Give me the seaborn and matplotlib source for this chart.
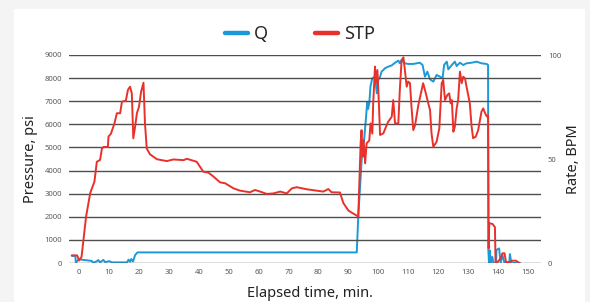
import numpy as np
import pandas as pd
import seaborn as sns
import matplotlib
matplotlib.use('Agg')
import matplotlib.pyplot as plt
from matplotlib.lines import Line2D
from matplotlib.patches import Rectangle

# 数据：STP（压力, psi）
stp_t = [-2.5, -0.7, 0.0, 0.8, 2.3, 3.7, 5.1, 5.9, 7.0, 7.6, 8.1, 9.6, 9.8, 10.6, 11.8, 12.6, 13.7,
         14.3, 15.6, 16.3, 17.0, 17.6, 18.1, 18.7, 19.3, 20.0, 20.7, 21.5, 22.0, 22.6, 23.7, 26.0,
         29.3, 31.5, 34.9, 36.0, 39.3, 41.5, 43.2, 44.9, 47.1, 48.8, 51.6, 53.8, 57.1, 58.8, 60.5,
         62.7, 64.9, 67.2, 69.4, 71.1, 72.7, 76.1, 81.6, 83.3, 84.4, 87.2, 88.3, 90.0, 91.1, 92.8,
         93.3, 94.1, 94.4, 94.8, 95.1, 95.6, 96.1, 97.0, 97.4, 98.0, 98.3, 98.9, 99.2, 99.7, 100.2,
         100.6, 101.7, 102.6, 103.3, 104.5, 105.0, 105.6, 106.7, 107.2, 107.8, 108.4, 108.9, 109.5,
         110.0, 110.6, 111.1, 111.7, 112.3, 113.4, 114.5, 115.0, 115.9, 116.7, 117.3, 117.8, 118.4,
         119.5, 120.4, 121.2, 121.7, 122.3, 123.1, 123.7, 124.2, 124.6, 125.1, 125.6, 126.2, 126.7,
         127.3, 127.9, 128.4, 129.0, 129.5, 130.6, 131.2, 131.7, 132.6, 133.4, 134.0, 134.5, 135.1,
         135.5, 136.0, 136.4, 136.7, 136.9, 137.1, 138.2, 139.0, 139.2, 139.8, 140.9, 141.5, 142.2,
         142.7, 144.0, 144.8, 146.0, 147.2]
stp_p = [330, 330, 110, 270, 2000, 3030, 3520, 4380, 4460, 4950, 5020, 5020, 5470, 5590, 6040, 6480, 6480,
         6980, 7020, 7490, 7630, 7340, 5395, 5900, 6480, 6760, 7410, 7800, 6040, 4950, 4700, 4490,
         4410, 4480, 4450, 4510, 4380, 3950, 3910, 3740, 3490, 3450, 3230, 3130, 3060, 3160, 3090,
         2990, 3010, 3090, 3010, 3230, 3280, 3190, 3090, 3200, 3060, 3050, 2600, 2270, 2180, 2050,
         2000, 5180, 5750, 4600, 5300, 4310, 5180, 5300, 6040, 5600, 6910, 8500, 7780, 8350, 6910,
         5540, 5610, 5900, 6110, 6330, 7050, 6040, 6040, 7490, 8780, 8900, 8350, 7630,
         7850, 7780, 6760, 5750, 5960, 6840, 7490, 7780, 7340, 6910, 6620, 5610, 5020,
         5250, 5820, 7780, 7920, 7050, 7270, 7340, 6910, 7050, 5680, 5900, 6690, 7050,
         8280, 7780, 8060, 7990, 7630, 6910, 5900, 5400, 5470, 5750, 6190, 6550, 6690,
         6550, 6400, 6330, 6400, 635, 1720, 1690, 1550, 30, 30, 200, 420, 420,
         40, 40, 100, 100, 0]

# 数据：Q（排量, BPM）
q_t = [-2.4, -1.3, -1.1, -0.1, 0.9, 4.2, 4.7, 5.8, 6.4, 7.0, 8.1, 8.7, 10.0, 11.0, 16.0, 16.5, 17.0,
       17.4, 18.0, 18.7, 19.5, 92.8, 93.3, 94.5, 94.8, 95.2, 95.9, 96.3, 96.6, 97.0, 97.4, 98.0,
       98.9, 99.5, 100.0, 100.6, 101.1, 101.7, 102.2, 103.3, 104.5, 105.6, 106.7, 107.2, 107.8,
       108.9, 110.0, 111.7, 113.9, 114.8, 115.6, 116.4, 117.3, 118.4, 119.5, 120.6, 121.5, 122.0,
       122.9, 123.4, 124.6, 125.6, 126.2, 127.3, 128.4, 129.5, 131.2, 132.9, 134.5, 136.2, 136.7,
       136.8, 137.0, 137.3, 137.6, 138.1, 138.5, 139.4, 139.5, 140.4, 140.9, 141.5, 142.2, 143.8,
       144.0, 144.5, 147.4]
q_rate = [3.4, 3.4, 0.2, 1.8, 1.6, 1.0, 0.1, 0.8, 1.4, 0.3, 1.5, 0.4, 0.9, 0.3, 0.3, 1.6, 0.6,
          1.9, 0.7, 3.8, 5.1, 5.1, 22, 51, 59, 58, 70, 77.5, 74, 77, 85, 88.8,
          89.6, 81.6, 88, 89.6, 92, 92.8, 93.6, 94.4, 95, 96.3, 97.3, 96, 97.6,
          96, 95.7, 95.7, 96.3, 95.2, 89.6, 92, 88.3, 87.2, 90.4, 89.6, 88.8, 95.2,
          96.8, 93.1, 95.2, 96.8, 94.7, 96.3, 95.2, 96, 96.3, 96.8, 96, 95.7, 95.2,
          6.3, 0.2, 6, 0, 3, 0, 0, 6.3, 7, 0, 3.8, 0, 0,
          4.3, 0, 0]

x_ticks = list(range(0, 151, 10))
p_ticks = list(range(0, 9001, 1000))
q_ticks = [0, 50, 100]

stp_df = pd.DataFrame({'t': stp_t, 'p': stp_p})
q_df = pd.DataFrame({'t': q_t, 'q': q_rate})

sns.set_style('white')
plt.rcParams['font.family'] = ['Noto Sans', 'DejaVu Sans']

red = '#e8312b'
blue = '#1b9ad7'
grid_c = '#4f4f4f'
tick_c = '#5a5a5a'

fig = plt.figure(figsize=(5.9, 3.02), dpi=100, facecolor='#f4f4f4')
# 白色面板（放在坐标轴下面）
fig.patches.append(Rectangle((14 / 590, 0), (585 - 14) / 590, 1 - 9 / 302,
                             transform=fig.transFigure, facecolor='white',
                             edgecolor='none', zorder=-5))

ax = fig.add_axes([69 / 590, 1 - 263 / 302, (541 - 69) / 590, (263 - 55) / 302])
ax2 = ax.twinx()

sns.lineplot(data=q_df, x='t', y='q', ax=ax2, color=blue, linewidth=1.4,
             estimator=None, sort=False)
sns.lineplot(data=stp_df, x='t', y='p', ax=ax, color=red, linewidth=1.4,
             estimator=None, sort=False)

# 红线在上层
ax.set_zorder(ax2.get_zorder() + 1)
ax.patch.set_visible(False)
ax2.patch.set_visible(False)

ax.set_xlim(-3.4, 154.4)
ax.set_ylim(0, 9000)
ax2.set_ylim(0, 100)
ax.set_xticks(x_ticks)
ax.set_yticks(p_ticks)
ax2.set_yticks(q_ticks)

ax.yaxis.grid(True, color=grid_c, linewidth=1.0)
ax.xaxis.grid(False)
ax2.grid(False)
for a in (ax, ax2):
    for s in a.spines.values():
        s.set_visible(False)

ax.tick_params(axis='x', length=0, pad=4, labelsize=5.5, labelcolor=tick_c)
ax.tick_params(axis='y', length=0, pad=5, labelsize=5.5, labelcolor=tick_c)
ax2.tick_params(axis='y', length=0, pad=5, labelsize=5.5, labelcolor=tick_c)

ax.set_xlabel('Elapsed time, min.', fontsize=10.5, color='#222222')
ax.set_ylabel('Pressure, psi', fontsize=10.5, color='#222222')
ax2.set_ylabel('Rate, BPM', fontsize=10.5, color='#222222')
ax.xaxis.set_label_coords(0.51, -0.11)
ax.yaxis.set_label_coords(-0.066, 0.5)
ax2.yaxis.set_label_coords(1.054, 0.5)

handles = [Line2D([], [], color=blue, linewidth=3.2),
           Line2D([], [], color=red, linewidth=3.2)]
fig.legend(handles, ['Q', 'STP'], loc='center', bbox_to_anchor=(300 / 590, 1 - 34 / 302),
           ncol=2, frameon=False, fontsize=13, handlelength=1.25, handletextpad=0.35,
           columnspacing=2.6)

plt.savefig('out.png', dpi=100, facecolor=fig.get_facecolor())
